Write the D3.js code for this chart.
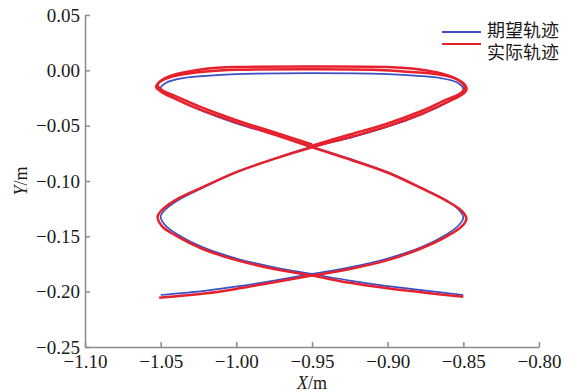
<!DOCTYPE html>
<html>
<head>
<meta charset="utf-8">
<script src="https://cdn.jsdelivr.net/npm/d3@7.9.0/dist/d3.min.js"></script>
<style>
  html, body { margin: 0; padding: 0; background: #fff; }
  svg { display: block; }
  .axis text { font-family: "Liberation Serif", "DejaVu Serif", serif; font-size: 19px; fill: #1a1a1a; }
  .axis path, .axis line { stroke: #8a8a8a; stroke-width: 1.5; }
  .lbl { font-family: "Liberation Serif", serif; font-size: 18px; fill: #1a1a1a; }
  .legend text { font-family: "Noto Sans CJK SC", sans-serif; font-size: 18px; fill: #1a1a1a; }
</style>
</head>
<body>
<svg width="570" height="392"></svg>
<script>
// desired trajectory (blue)
const desiredX = [-1.050, -1.020, -0.998, -0.975, -0.950,
  -0.925, -0.900, -0.878, -0.862, -0.853, -0.850,
  -0.853, -0.862, -0.878, -0.900, -0.925, -0.950,
  -0.975, -1.000, -1.022, -1.038, -1.047, -1.050,
  -1.046, -1.035, -1.020, -1.000, -0.950, -0.900, -0.880, -0.865, -0.854, -0.850,
  -0.853, -0.862, -0.878, -0.900, -0.925, -0.950,
  -0.975, -1.000, -1.022, -1.038, -1.047, -1.050,
  -1.047, -1.038, -1.022, -1.000, -0.975, -0.950,
  -0.925, -0.900, -0.875, -0.850];
const desiredY = [-0.203, -0.199, -0.195, -0.190, -0.184,
  -0.178, -0.170, -0.160, -0.149, -0.140, -0.133,
  -0.126, -0.117, -0.106, -0.092, -0.080, -0.069,
  -0.058, -0.048, -0.037, -0.027, -0.020, -0.016,
  -0.011, -0.007, -0.005, -0.0035, -0.0025, -0.0035, -0.005, -0.007, -0.011, -0.017,
  -0.022, -0.030, -0.040, -0.051, -0.061, -0.069,
  -0.080, -0.092, -0.106, -0.117, -0.126, -0.132,
  -0.140, -0.149, -0.160, -0.170, -0.178, -0.184,
  -0.190, -0.195, -0.199, -0.203];

// actual trajectory (red), first pass
const actualX = [-1.051, -1.020, -0.998, -0.975, -0.950,
  -0.925, -0.900, -0.878, -0.861, -0.851, -0.848,
  -0.851, -0.861, -0.877, -0.899, -0.924, -0.950,
  -0.975, -1.000, -1.023, -1.040, -1.050, -1.053,
  -1.049, -1.037, -1.020, -1.000, -0.950, -0.910, -0.890, -0.870, -0.856, -0.849, -0.848,
  -0.851, -0.861, -0.877, -0.899, -0.924, -0.950,
  -0.975, -1.000, -1.023, -1.040, -1.049, -1.052,
  -1.049, -1.039, -1.023, -1.000, -0.975, -0.950,
  -0.925, -0.900, -0.875, -0.850];
const actualY = [-0.2055, -0.2015, -0.197, -0.1915, -0.1855,
  -0.1795, -0.1715, -0.161, -0.150, -0.141, -0.134,
  -0.127, -0.118, -0.107, -0.093, -0.081, -0.0695,
  -0.058, -0.047, -0.036, -0.026, -0.019, -0.015,
  -0.009, -0.004, -0.001, 0.0005, 0.001, 0.0005, -0.001, -0.003, -0.007, -0.013, -0.018,
  -0.022, -0.029, -0.039, -0.050, -0.060, -0.0695,
  -0.080, -0.092, -0.106, -0.117, -0.126, -0.132,
  -0.141, -0.150, -0.161, -0.1715, -0.1795, -0.1855,
  -0.192, -0.197, -0.201, -0.2045];

// actual trajectory (red), second lap over the top loop
const actualLapX = [-0.950, -0.975, -1.000, -1.022, -1.039, -1.050, -1.052,
  -1.047, -1.035, -1.020, -1.000, -0.950, -0.900, -0.880, -0.864, -0.853, -0.849,
  -0.852, -0.862, -0.878, -0.900, -0.925, -0.950];
const actualLapY = [-0.067, -0.056, -0.045, -0.034, -0.024, -0.017, -0.013,
  -0.007, -0.002, 0.0015, 0.003, 0.0035, 0.003, 0.001, -0.003, -0.009, -0.016,
  -0.021, -0.027, -0.037, -0.048, -0.058, -0.068];

const xTicks = [-1.10, -1.05, -1.00, -0.95, -0.90, -0.85, -0.80];
const yTicks = [0.05, 0.00, -0.05, -0.10, -0.15, -0.20, -0.25];
const legendLabels = ['期望轨迹', '实际轨迹'];
const seriesColors = ['#3b4fc6', '#e6212b'];

const svg = d3.select('svg');
const plotLeft = 85, plotRight = 539, plotTop = 15, plotBottom = 347;

const x = d3.scaleLinear().domain([-1.10, -0.80]).range([plotLeft, plotRight]);
const y = d3.scaleLinear().domain([-0.25, 0.05]).range([plotBottom, plotTop]);

// axes, ticks pointing inward
svg.append('g')
  .attr('class', 'axis')
  .attr('transform', `translate(0,${plotBottom})`)
  .call(d3.axisBottom(x).tickValues(xTicks).tickFormat(d3.format('.2f'))
    .tickSizeInner(-5).tickSizeOuter(0).tickPadding(8));

svg.append('g')
  .attr('class', 'axis')
  .attr('transform', `translate(${plotLeft},0)`)
  .call(d3.axisLeft(y).tickValues(yTicks).tickFormat(d3.format('.2f'))
    .tickSizeInner(-5).tickSizeOuter(0).tickPadding(5));

// axis titles
const xt = svg.append('text').attr('class', 'lbl')
  .attr('x', 312).attr('y', 389).attr('text-anchor', 'middle');
xt.append('tspan').attr('font-style', 'italic').text('X');
xt.append('tspan').text('/m');

const yt = svg.append('text').attr('class', 'lbl')
  .attr('transform', 'translate(27,181) rotate(-90)').attr('text-anchor', 'middle');
yt.append('tspan').attr('font-style', 'italic').text('Y');
yt.append('tspan').text('/m');

// curves
const line = d3.line()
  .x(d => x(d[0]))
  .y(d => y(d[1]))
  .curve(d3.curveCatmullRom.alpha(0.5));

const desired = desiredX.map((v, i) => [v, desiredY[i]]);
const actual = actualX.map((v, i) => [v, actualY[i]]);
const actualLap = actualLapX.map((v, i) => [v, actualLapY[i]]);

svg.append('path')
  .attr('d', line(desired))
  .attr('fill', 'none')
  .attr('stroke', seriesColors[0])
  .attr('stroke-width', 1.7);

[actual, actualLap].forEach(pts => {
  svg.append('path')
    .attr('d', line(pts))
    .attr('fill', 'none')
    .attr('stroke', seriesColors[1])
    .attr('stroke-width', 2.5)
    .attr('stroke-linejoin', 'round');
});

// legend
const legend = svg.append('g').attr('class', 'legend');
const lineYs = [32, 44];
const textYs = [37, 59];
legendLabels.forEach((label, i) => {
  legend.append('line')
    .attr('x1', 442).attr('x2', 481)
    .attr('y1', lineYs[i]).attr('y2', lineYs[i])
    .attr('stroke', seriesColors[i])
    .attr('stroke-width', 2.2);
  legend.append('text')
    .attr('x', 487).attr('y', textYs[i])
    .text(label);
});
</script>
</body>
</html>
